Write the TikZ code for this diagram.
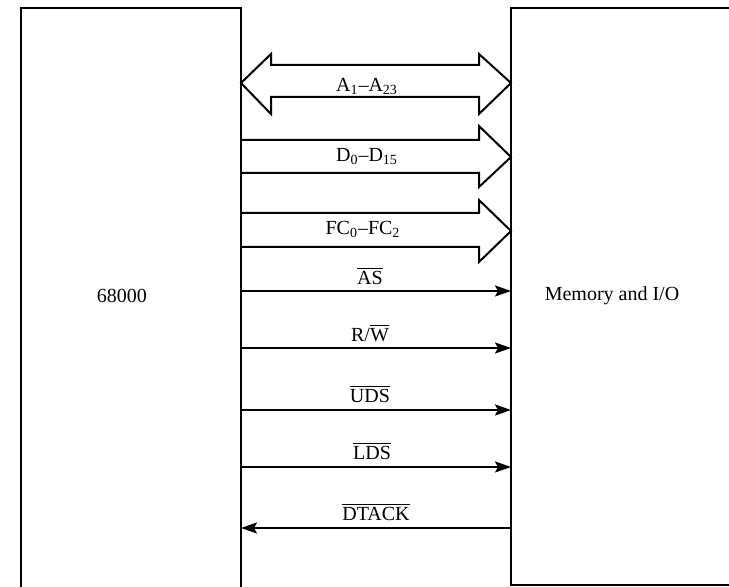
\documentclass[tikz,border=0pt]{standalone}
\usepackage{fontspec}
\setmainfont{Liberation Serif}
\usetikzlibrary{arrows.meta}
\tikzset{
  unitbox/.style={draw, line width=1pt, inner sep=0pt, outer sep=0pt},
  busarrow/.style={draw, line width=1pt, line join=miter},
  sig/.style={draw, line width=1pt, -{Stealth[length=8pt,width=5.5pt,inset=1.5pt]}},
  lbl/.style={inner sep=0pt, font=\fontsize{10}{12}\selectfont},
}
\newcommand{\ovl}[1]{$\overline{\mbox{#1}}$}
\begin{document}
\begin{tikzpicture}[x=0.5pt,y=-0.5pt]
\useasboundingbox (0,0) rectangle (729,587);
\clip (0,0) rectangle (729,587);
% boxes
\node[unitbox, minimum width=110pt, minimum height=296pt] (cpu) at (131,304) {};
\node[unitbox, minimum width=117pt, minimum height=288.5pt] (mem) at (628,296.5) {};
\node[lbl] (cpulbl) at (122,296) {68000};
\node[lbl] (memlbl) at (612,296) {Memory and I/O};
% address bus (bidirectional)
\path[busarrow] (cpu.east |- 0,83) -- (271,54) -- (271,65) -- (479,65) -- (479,54)
  -- (mem.west |- 0,83) -- (479,114) -- (479,97) -- (271,97) -- (271,114) -- cycle;
\node[lbl] (abus) at (367,86) {A\textsubscript{1}–A\textsubscript{23}};
% data bus
\path[busarrow] (cpu.east |- 0,140) -- (479,140) -- (479,126) -- (mem.west |- 0,157)
  -- (479,187) -- (479,173) -- (cpu.east |- 0,173);
\node[lbl] (dbus) at (367,157) {D\textsubscript{0}–D\textsubscript{15}};
% function code bus
\path[busarrow] (cpu.east |- 0,213) -- (479,213) -- (479,200) -- (mem.west |- 0,231)
  -- (479,262) -- (479,247) -- (cpu.east |- 0,247);
\node[lbl] (fbus) at (363,229) {FC\textsubscript{0}–FC\textsubscript{2}};
% control signals
\draw[sig] (cpu.east |- 0,291) -- (mem.west |- 0,291);
\node[lbl] (as) at (370,276) {\ovl{AS}};
\draw[sig] (cpu.east |- 0,348) -- (mem.west |- 0,348);
\node[lbl] (rw) at (370,333) {R/\ovl{W}};
\draw[sig] (cpu.east |- 0,410) -- (mem.west |- 0,410);
\node[lbl] (uds) at (370,394) {\ovl{UDS}};
\draw[sig] (cpu.east |- 0,467) -- (mem.west |- 0,467);
\node[lbl] (lds) at (372,451) {\ovl{LDS}};
\draw[sig] (mem.west |- 0,528) -- (cpu.east |- 0,528);
\node[lbl] (dtack) at (376,512) {\ovl{DTACK}};
\end{tikzpicture}
\end{document}
